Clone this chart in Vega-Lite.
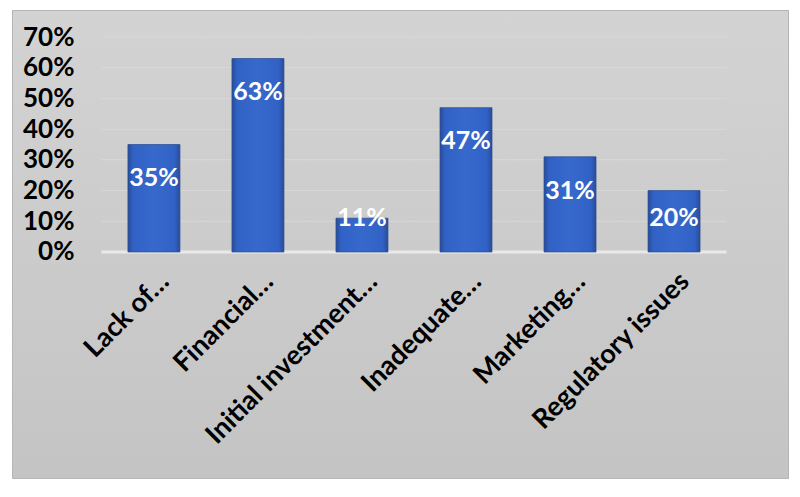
{
  "$schema": "https://vega.github.io/schema/vega-lite/v6.json",
  "width": 776,
  "height": 468,
  "autosize": "none",
  "padding": {"left": 12, "top": 10, "right": 12, "bottom": 19},
  "background": "white",
  "config": {
    "font": "Lato",
    "view": {"fill": {"gradient": "linear", "x1": 0, "y1": 0, "x2": 0, "y2": 1, "stops": [{"offset": 0, "color": "#d3d3d3"}, {"offset": 1, "color": "#c4c4c4"}]}, "stroke": "#b5b5b5", "strokeWidth": 1}
  },
  "datasets": {
    "bars": [
      {"cat": "Lack of…", "value": 0.35},
      {"cat": "Financial…", "value": 0.63},
      {"cat": "Initial investment…", "value": 0.11},
      {"cat": "Inadequate…", "value": 0.47},
      {"cat": "Marketing…", "value": 0.31},
      {"cat": "Regulatory issues", "value": 0.20}
    ],
    "grid": [
      {"cat": "Lack of…", "levels": [0.1, 0.2, 0.3, 0.4, 0.5, 0.6, 0.7]},
      {"cat": "Financial…", "levels": [0.1, 0.2, 0.3, 0.4, 0.5, 0.6, 0.7]},
      {"cat": "Initial investment…", "levels": [0.1, 0.2, 0.3, 0.4, 0.5, 0.6, 0.7]},
      {"cat": "Inadequate…", "levels": [0.1, 0.2, 0.3, 0.4, 0.5, 0.6, 0.7]},
      {"cat": "Marketing…", "levels": [0.1, 0.2, 0.3, 0.4, 0.5, 0.6, 0.7]},
      {"cat": "Regulatory issues", "levels": [0.1, 0.2, 0.3, 0.4, 0.5, 0.6, 0.7]}
    ]
  },
  "resolve": {"scale": {"x": "independent"}, "axis": {"x": "independent", "y": "independent"}},
  "layer": [
    {
      "data": {"name": "grid"},
      "transform": [{"flatten": ["levels"], "as": ["lv"]}],
      "mark": {"type": "tick", "thickness": 1, "size": 105, "color": "#d8d8d8", "opacity": 1},
      "encoding": {
        "x": {"field": "cat", "type": "nominal", "sort": null, "scale": {"paddingInner": 0, "paddingOuter": 0.7308, "align": 0.592}, "axis": null},
        "y": {"field": "lv", "type": "quantitative", "scale": {"domain": [-0.736, 0.788], "nice": false, "zero": false}, "axis": null}
      }
    },
    {
      "data": {"name": "bars"},
      "mark": {"type": "tick", "thickness": 3, "size": 105, "color": "#e9e9e9", "opacity": 1},
      "encoding": {
        "x": {"field": "cat", "type": "nominal", "sort": null, "scale": {"paddingInner": 0, "paddingOuter": 0.7308, "align": 0.592}, "axis": null},
        "y": {"datum": 0, "type": "quantitative", "scale": {"domain": [-0.736, 0.788], "nice": false, "zero": false}, "axis": null}
      }
    },
    {
      "data": {"name": "bars"},
      "resolve": {"scale": {"x": "shared"}},
      "layer": [
        {
          "mark": {
            "type": "bar",
            "stroke": "#2a4c92",
            "strokeWidth": 1,
            "strokeOpacity": 0.7,
            "color": {"gradient": "linear", "x1": 0, "y1": 0, "x2": 1, "y2": 0, "stops": [
              {"offset": 0, "color": "#284c98"},
              {"offset": 0.1, "color": "#3161c4"},
              {"offset": 0.5, "color": "#3769cc"},
              {"offset": 0.9, "color": "#3161c4"},
              {"offset": 1, "color": "#284c98"}
            ]}
          },
          "encoding": {
            "x": {"field": "cat", "type": "nominal", "sort": null, "scale": {"paddingInner": 0.5, "paddingOuter": 0.98, "align": 0.5686},
              "axis": {"orient": "bottom", "offset": -226, "domain": false, "ticks": false, "title": null, "labelAngle": -45, "labelAlign": "right", "labelBaseline": "middle", "labelFont": "Lato", "labelFontWeight": "bold", "labelFontSize": 27, "labelColor": "#000000", "labelPadding": 25, "labelLimit": 0, "labelOffset": 11}},
            "y": {"field": "value", "type": "quantitative", "scale": {"domain": [-0.736, 0.788], "nice": false, "zero": false},
              "axis": {"orient": "left", "offset": -62, "domain": false, "ticks": false, "grid": false, "title": null, "values": [0, 0.1, 0.2, 0.3, 0.4, 0.5, 0.6, 0.7], "format": ".0%", "labelFont": "Lato", "labelFontWeight": "bold", "labelFontSize": 26, "labelColor": "#000000", "labelPadding": 0}},
            "y2": {"datum": 0}
          }
        },
        {
          "transform": [{"calculate": "max(datum.value - 0.11, 0.11)", "as": "labelY"}],
          "mark": {"type": "text", "font": "Lato", "fontWeight": "bold", "fontSize": 25, "color": "white", "baseline": "middle", "align": "center"},
          "encoding": {
            "x": {"field": "cat", "type": "nominal", "sort": null},
            "y": {"field": "labelY", "type": "quantitative"},
            "text": {"field": "value", "type": "quantitative", "format": ".0%"}
          }
        }
      ]
    }
  ]
}
